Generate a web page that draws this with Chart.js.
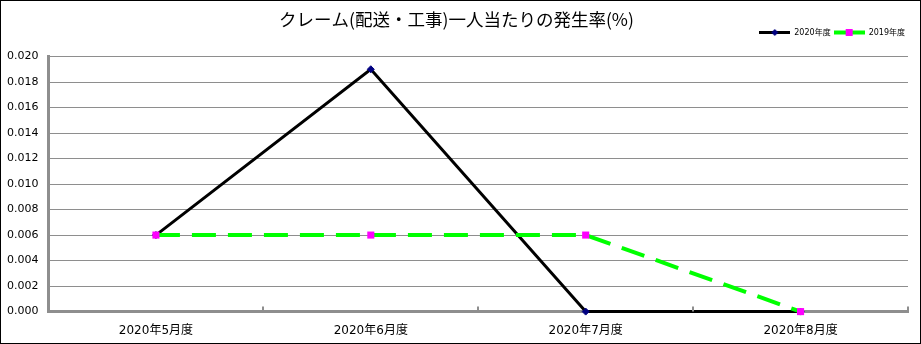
<!DOCTYPE html>
<html lang="ja">
<head>
<meta charset="UTF-8">
<title>クレーム発生率</title>
<script src="https://cdn.jsdelivr.net/npm/chart.js@4.4.0/dist/chart.umd.min.js"></script>
<style>
    body {
        margin: 0;
        background: #ffffff;
    }
    .frame {
        position: absolute;
        left: 0;
        top: 0;
        width: 921px;
        height: 344px;
        box-sizing: border-box;
        border: 1px solid #000;
        background: #fff;
    }
    .frame canvas {
        display: block;
    }
</style>
</head>
<body>
<div class="frame">
    <canvas id="claimChart" width="919" height="342"></canvas>
</div>
<script>
    const months = ['2020年5月度', '2020年6月度', '2020年7月度', '2020年8月度'];
    const rate2020 = [0.006, 0.019, 0.000, 0.000];
    const rate2019 = [0.006, 0.006, 0.006, 0.000];
    const yTicks = [0, 0.002, 0.004, 0.006, 0.008, 0.010, 0.012, 0.014, 0.016, 0.018, 0.020];

    const FONT = "'DejaVu Sans', 'Noto Sans CJK JP', sans-serif";
    const GRID = '#8e8e8e';

    // legend sample: short line with the marker in the middle
    function legendSample(color, width, marker) {
        const c = document.createElement('canvas');
        c.width = 31;
        c.height = 9;
        const g = c.getContext('2d');
        g.strokeStyle = color;
        g.lineWidth = width;
        g.beginPath();
        g.moveTo(0, 4.5);
        g.lineTo(31, 4.5);
        g.stroke();
        marker(g);
        return c;
    }

    const sample2020 = legendSample('#000', 3, g => {
        g.fillStyle = '#000080';
        g.beginPath();
        g.moveTo(15.5, 1);
        g.lineTo(19, 4.5);
        g.lineTo(15.5, 8);
        g.lineTo(12, 4.5);
        g.closePath();
        g.fill();
    });
    const sample2019 = legendSample('#00ff00', 4, g => {
        g.fillStyle = '#ff00ff';
        g.fillRect(12, 1, 7, 7);
    });

    // extra room between the legend row and the plot
    const legendGap = {
        id: 'legendGap',
        beforeLayout(chart) {
            const legend = chart.legend;
            if (!legend || legend._gapPatched) return;
            const fit = legend.fit;
            legend.fit = function () {
                fit.call(this);
                this.height += 10;
            };
            legend._gapPatched = true;
        }
    };

    // small tick marks pointing into the plot at category boundaries
    const innerTicks = {
        id: 'innerTicks',
        afterDatasetsDraw(chart) {
            const x = chart.scales.x;
            const area = chart.chartArea;
            const step = x.getPixelForValue(1) - x.getPixelForValue(0);
            const ctx = chart.ctx;
            ctx.save();
            ctx.strokeStyle = GRID;
            ctx.lineWidth = 2;
            for (let i = 0; i < months.length; i++) {
                const px = Math.round(x.getPixelForValue(i) + step / 2);
                ctx.beginPath();
                ctx.moveTo(px, area.bottom);
                ctx.lineTo(px, area.bottom - 5);
                ctx.stroke();
            }
            ctx.restore();
        }
    };

    new Chart(document.getElementById('claimChart'), {
        type: 'line',
        data: {
            labels: months,
            datasets: [
                {
                    label: '2020年度',
                    data: rate2020,
                    borderColor: '#000',
                    borderWidth: 3,
                    pointStyle: 'rectRot',
                    pointRadius: 3.5,
                    pointBackgroundColor: '#000080',
                    pointBorderColor: '#000080',
                    pointBorderWidth: 1,
                    tension: 0,
                    clip: false,
                    order: 1
                },
                {
                    label: '2019年度',
                    data: rate2019,
                    borderColor: '#00ff00',
                    borderWidth: 4,
                    borderDash: [24, 12],
                    pointStyle: 'rect',
                    pointRadius: 5,
                    pointBackgroundColor: '#ff00ff',
                    pointBorderColor: '#ff00ff',
                    pointBorderWidth: 0,
                    tension: 0,
                    clip: false,
                    order: 0
                }
            ]
        },
        options: {
            responsive: false,
            animation: false,
            layout: {
                padding: { left: 4, right: 12, top: 0, bottom: 0 }
            },
            plugins: {
                title: {
                    display: true,
                    text: 'クレーム(配送・工事)一人当たりの発生率(%)',
                    color: '#000',
                    font: { family: "'Noto Sans CJK JP', sans-serif", size: 17.5, weight: 'normal', lineHeight: 1 },
                    padding: { top: 10, bottom: -3 }
                },
                legend: {
                    display: true,
                    position: 'top',
                    align: 'end',
                    labels: {
                        usePointStyle: true,
                        pointStyleWidth: 31,
                        padding: 3,
                        color: '#000',
                        font: { family: FONT, size: 8 },
                        generateLabels: chart => chart.data.datasets.map((ds, i) => ({
                            text: ds.label,
                            pointStyle: i === 0 ? sample2020 : sample2019,
                            fillStyle: ds.borderColor,
                            strokeStyle: ds.borderColor,
                            lineWidth: 0,
                            fontColor: '#000',
                            datasetIndex: i,
                            hidden: false
                        }))
                    }
                },
                tooltip: { enabled: false }
            },
            scales: {
                x: {
                    offset: true,
                    grid: {
                        display: false,
                        drawTicks: false
                    },
                    border: { color: GRID, width: 3 },
                    ticks: {
                        color: '#000',
                        padding: 12,
                        maxRotation: 0,
                        font: { family: FONT, size: 12 }
                    },
                    afterFit: scale => {
                        scale.height -= 7;
                    }
                },
                y: {
                    min: 0,
                    max: 0.02,
                    afterBuildTicks: axis => {
                        axis.ticks = yTicks.map(v => ({ value: v }));
                    },
                    grid: {
                        color: GRID,
                        lineWidth: 1,
                        drawTicks: false
                    },
                    border: { color: GRID, width: 3 },
                    ticks: {
                        color: '#000',
                        padding: 10,
                        font: { family: FONT, size: 11 },
                        callback: v => Number(v).toFixed(3)
                    },
                    afterFit: scale => {
                        scale.width -= 8;
                    }
                }
            }
        },
        plugins: [legendGap, innerTicks]
    });
</script>
</body>
</html>
